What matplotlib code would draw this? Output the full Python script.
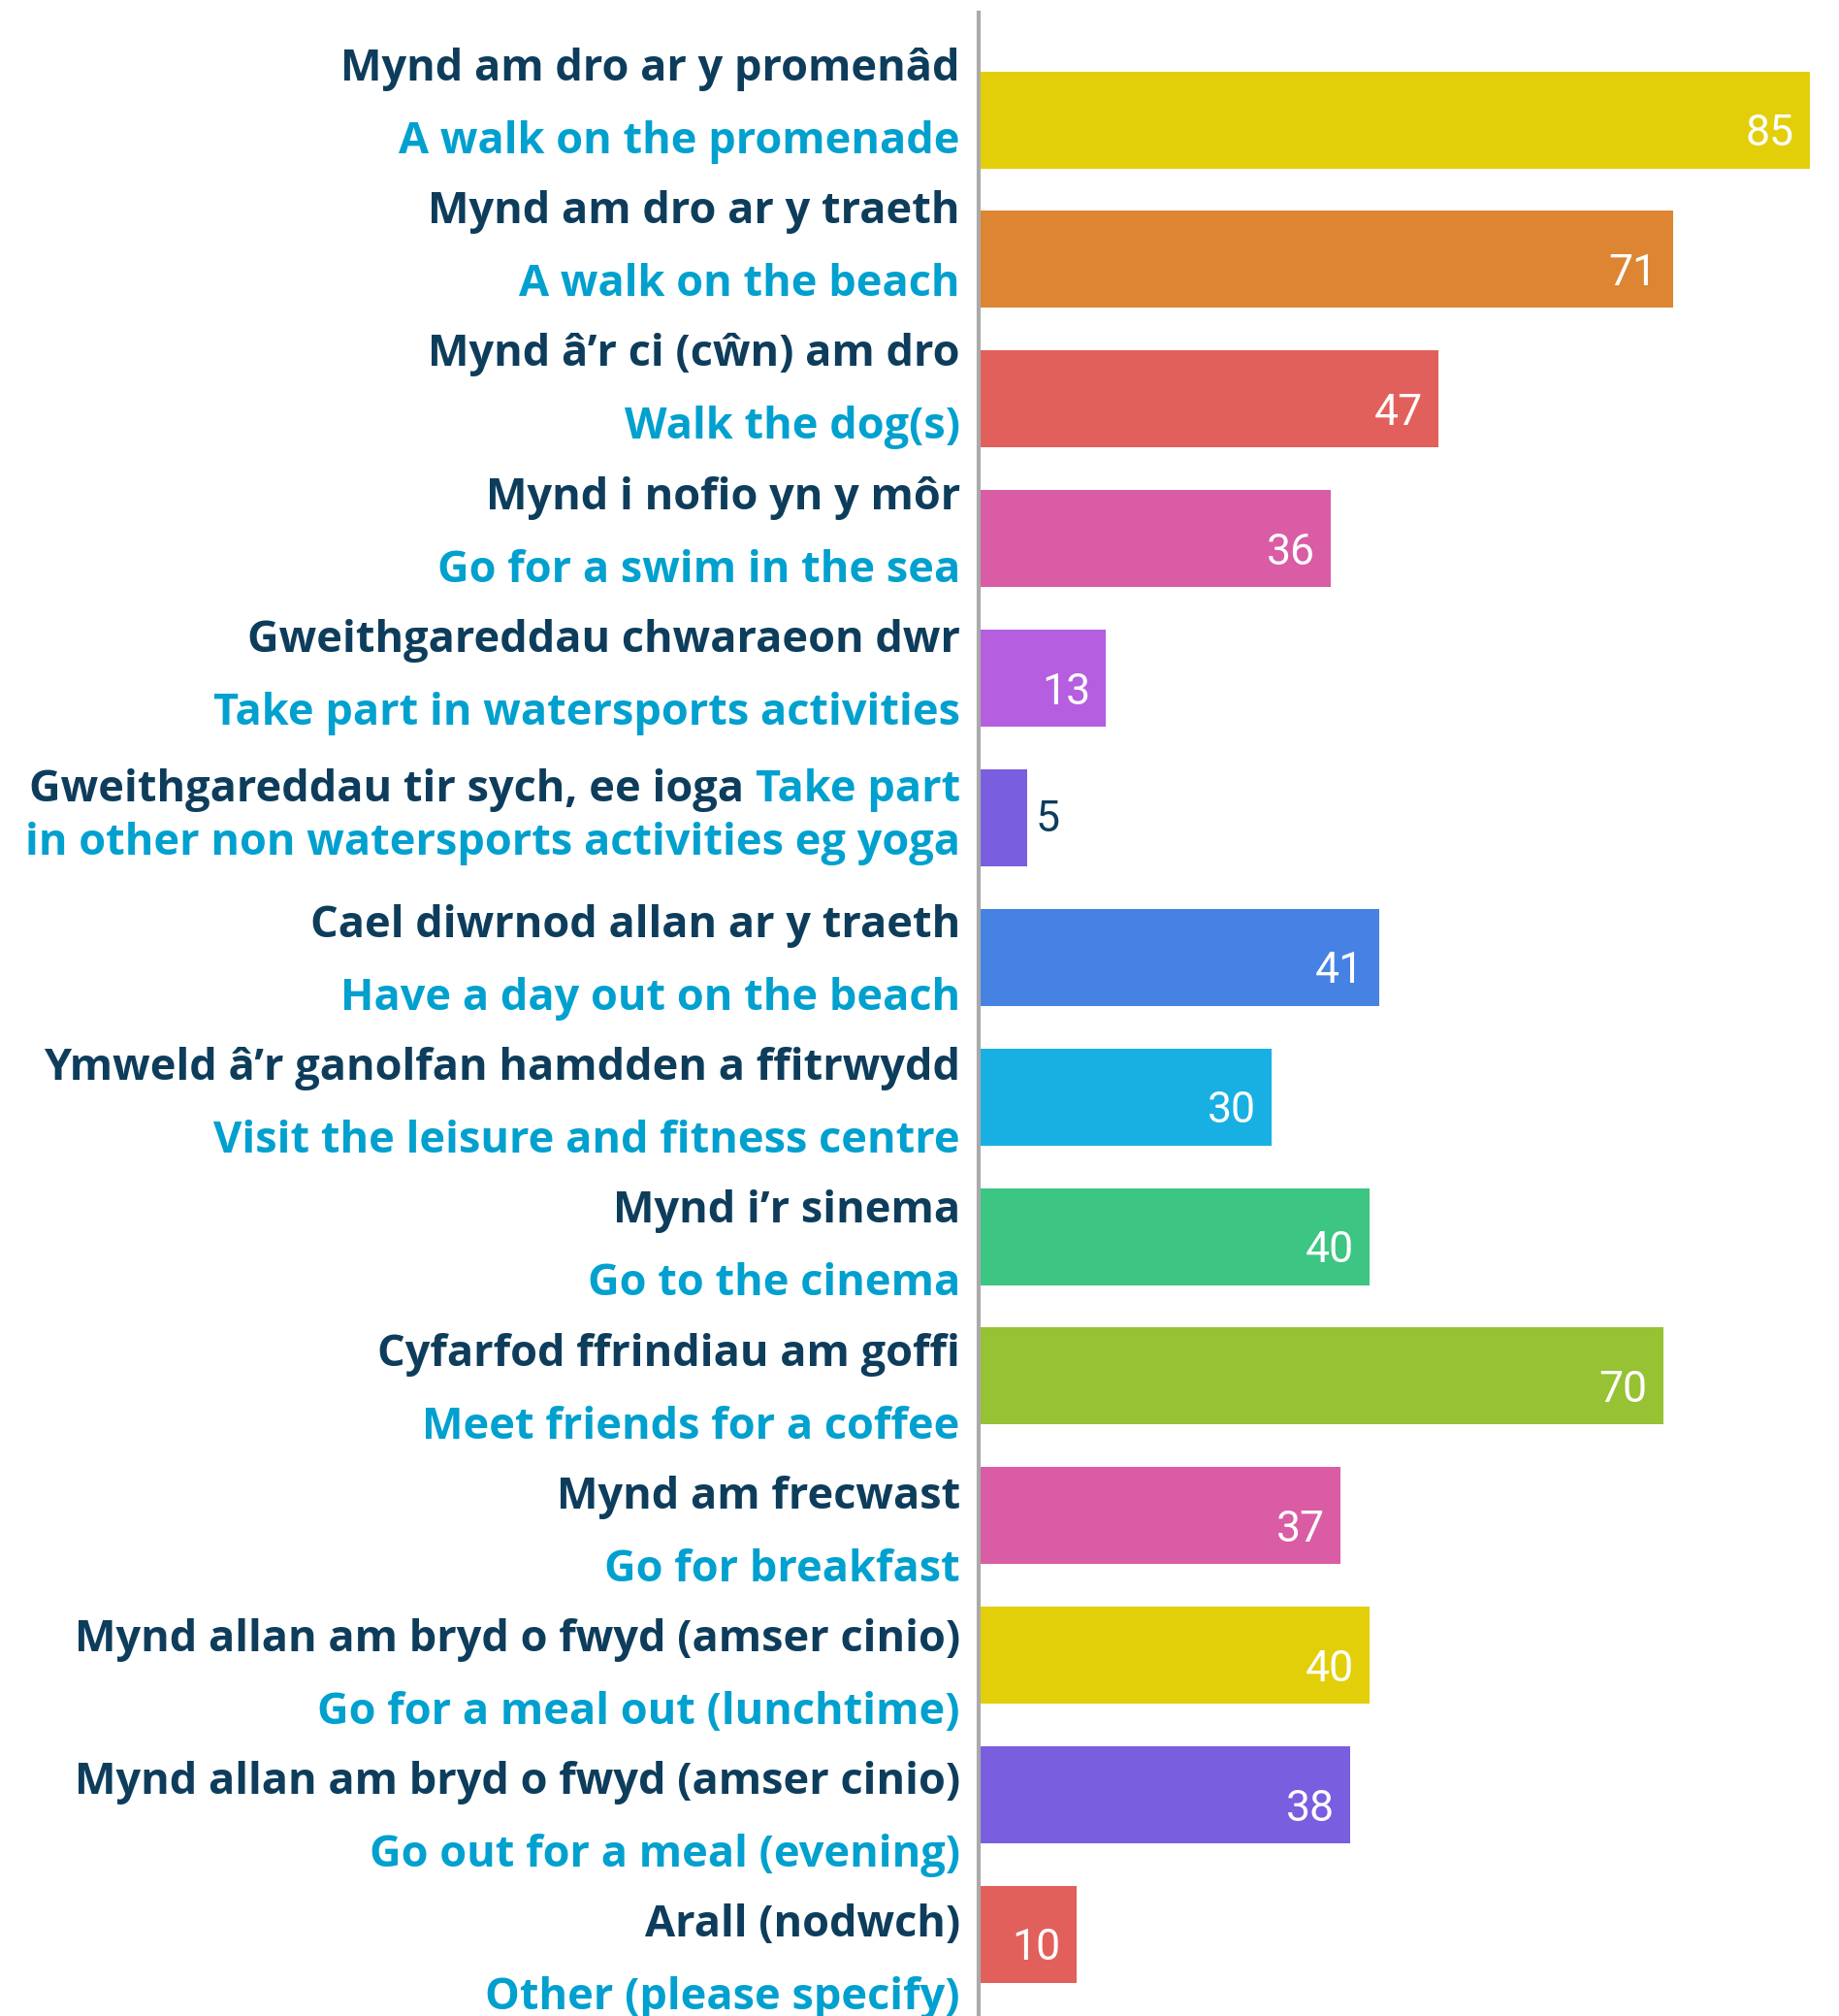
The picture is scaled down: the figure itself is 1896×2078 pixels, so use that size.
import numpy as np
import matplotlib.pyplot as plt

# data
welsh = ['Mynd am dro ar y promenâd', 'Mynd am dro ar y traeth', 'Mynd â’r ci (cŵn) am dro',
         'Mynd i nofio yn y môr', 'Gweithgareddau chwaraeon dwr', 'Gweithgareddau tir sych, ee ioga',
         'Cael diwrnod allan ar y traeth', 'Ymweld â’r ganolfan hamdden a ffitrwydd', 'Mynd i’r sinema',
         'Cyfarfod ffrindiau am goffi', 'Mynd am frecwast', 'Mynd allan am bryd o fwyd (amser cinio)',
         'Mynd allan am bryd o fwyd (amser cinio)', 'Arall (nodwch)']
english = ['A walk on the promenade', 'A walk on the beach', 'Walk the dog(s)',
           'Go for a swim in the sea', 'Take part in watersports activities',
           'Take part\nin other non watersports activities eg yoga',
           'Have a day out on the beach', 'Visit the leisure and fitness centre', 'Go to the cinema',
           'Meet friends for a coffee', 'Go for breakfast', 'Go for a meal out (lunchtime)',
           'Go out for a meal (evening)', 'Other (please specify)']
values = [85, 71, 47, 36, 13, 5, 41, 30, 40, 70, 37, 40, 38, 10]
colors = ['#e2cf0a', '#dd8533', '#e2605c', '#d95ca5', '#b55ee0', '#7a5ee0', '#4682e3',
          '#18b0e3', '#3dc583', '#96c233', '#d95ca5', '#e2cf0a', '#7a5ee0', '#e2605c']

navy = '#0e3d5c'
cyan = '#00a0cf'
lab_font = 'Open Sans'
lab_size = 32.5

fig = plt.figure(figsize=(18.96, 20.78), dpi=100)
ax = fig.add_axes([1009 / 1896, 0, 1 - 1009 / 1896, (2078 - 13) / 2078])

y = np.arange(len(values))
ax.barh(y, values, height=0.695, color=colors, zorder=2)
ax.set_xlim(0, 88)
ax.set_ylim(13.584, -0.768)

for s in ['top', 'right', 'bottom']:
    ax.spines[s].set_visible(False)
ax.spines['left'].set_color('#aaaaaa')
ax.spines['left'].set_linewidth(3)
ax.spines['left'].set_zorder(3)
ax.set_xticks([])
ax.set_yticks([])

# label rows are spaced a little wider than the bars (pixel layout -> data units)
bar_pitch = 143.9
first_bar = 123.5
lab_pitch = 147.2


def row_y(px):
    return (px - first_bar) / bar_pitch


for i, (w, e, v) in enumerate(zip(welsh, english, values)):
    base = i * lab_pitch
    if '\n' in e:
        first, second = e.split('\n')
        t = ax.text(-1.9, row_y(826 + i * bar_pitch - 5 * bar_pitch), first, ha='right',
                    va='baseline', color=cyan, fontsize=lab_size, fontweight='bold',
                    family=lab_font)
        ax.annotate(w, xy=(0, 0), xycoords=t, xytext=(-8, 0), textcoords='offset points',
                    ha='right', va='bottom', color=navy, fontsize=lab_size,
                    fontweight='bold', family=lab_font)
        ax.text(-1.9, row_y(881 + i * bar_pitch - 5 * bar_pitch), second, ha='right',
                va='baseline', color=cyan, fontsize=lab_size, fontweight='bold',
                family=lab_font)
    else:
        ax.text(-1.9, row_y(83 + base), w, ha='right', va='baseline', color=navy,
                fontsize=lab_size, fontweight='bold', family=lab_font)
        ax.text(-1.9, row_y(158 + base), e, ha='right', va='baseline', color=cyan,
                fontsize=lab_size, fontweight='bold', family=lab_font)

    if v >= 8:
        ax.text(v - 1.6, i + 0.184, str(v), ha='right', va='baseline', color='white',
                fontsize=32, family='Roboto')
    else:
        ax.text(v + 0.8, i + 0.10, str(v), ha='left', va='baseline', color=navy,
                fontsize=32, family='Roboto')

fig.savefig('out.png', dpi=100)
